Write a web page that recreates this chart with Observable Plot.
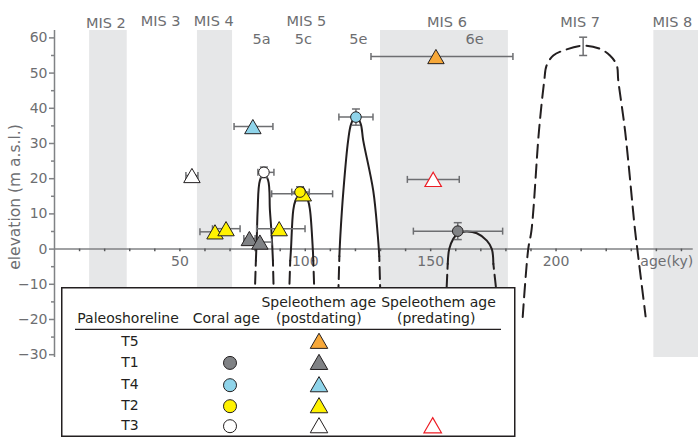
<!DOCTYPE html>
<html><head><meta charset="utf-8">
<script src="https://cdn.jsdelivr.net/npm/d3@7"></script>
<script src="https://cdn.jsdelivr.net/npm/@observablehq/plot@0.6"></script>
<style>
body{margin:0;background:#fff;}
#wrap{position:relative;width:698px;height:439px;font-family:"DejaVu Sans",sans-serif;}
#legend{position:absolute;left:61px;top:287px;}
</style></head><body><div id="wrap"></div>
<script>
// ---------- data ----------
const xDomain = [0, 256.4];
const yDomain = [-30.8, 62.1];
const yTicks = [-30, -20, -10, 0, 10, 20, 30, 40, 50, 60];
const yMinorTicks = [-25, -15, -5, 5, 15, 25, 35, 45, 55];
const xTickLabels = [50, 100, 150, 200];
const xMinorTicks = [10,20,30,40,50,60,70,80,90,100,110,120,130,140,150,160,170,180,190,200,210,220,230,240,250];
const xAxisEnd = 254.7;

const misNames = ["MIS 2", "MIS 3", "MIS 4", "MIS 5", "MIS 6", "MIS 7", "MIS 8"];
const misLabelAge = [20.5, 42.3, 63.5, 100.4, 156.5, 209.6, 246.4];
const misLabelElev = [64.1, 64.7, 64.7, 64.7, 64.4, 64.4, 64.4];
const subNames = ["5a", "5c", "5e", "6e"];
const subAge = [82.6, 99.2, 121.2, 167.5];
const subElev = [59.7, 59.7, 59.7, 59.5];

const bandStart = [14, 57, 130, 239];
const bandEnd = [29, 71, 181, 257];

// coral ages (circles)
const coralShore = ["T4", "T3", "T2", "T1"];
const coralAge = [120.2, 83.5, 97.9, 160.8];
const coralElev = [37.5, 21.8, 16.2, 5.1];
const coralAgeLo = [113.4, 81.1, 94.6, 143.1];
const coralAgeHi = [127.0, 87.5, 101.6, 178.7];
const coralElevErr = [2.3, 1.5, 1.5, 2.4];

// speleothem ages, postdating (filled triangles)
const postShore = ["T5", "T4", "T3", "T2", "T2", "T2", "T2", "T1", "T1"];
const postAge = [152.1, 79.1, 54.8, 99.2, 64.0, 68.4, 89.6, 77.7, 81.9];
const postElev = [54.7, 34.8, 20.9, 15.7, 4.9, 5.8, 5.8, 3.0, 2.0];
const postAgeLo = [126.2, 71.6, 52.4, 86.6, 58.0, 63.0, 80.6, 75.5, 78.0];
const postAgeHi = [182.8, 87.1, 57.2, 110.9, 68.0, 74.0, 99.9, 80.0, 86.6];

// speleothem ages, predating (open red triangle)
const preShore = ["T3"];
const preAge = [151.0];
const preElev = [19.8];
const preAgeLo = [140.7];
const preAgeHi = [161.4];

// MIS 7 highstand estimate
const mis7Age = [210.8];
const mis7Elev = [57.6];
const mis7Lo = [55.0];
const mis7Hi = [60.2];

// sea-level highstand arcs [age, elevation]
const arc5a = [[80.3,-3.3],[80.7,4],[81.0,11],[81.9,19.5],[83.5,21.4],[85.2,19.5],[85.9,11],[86.6,4],[87.1,-3.3]];
const arc5c = [[94.0,-3.3],[94.3,0],[95.2,11],[96.1,13.8],[98.7,16.6],[101.1,13.8],[101.9,11],[103.0,0],[103.2,-3.3]];
const arc5e = [[113.6,-2],[114.0,4],[115.2,16.6],[117.1,30.9],[118.3,35.6],[120.2,37.9],[122.1,35.6],[123.1,30.9],[127.1,16.6],[128.9,4],[129.5,-2]];
const arc6e = [[156.8,-4.2],[157.4,0],[159.0,2.9],[161.0,4.5],[164.1,5.0],[168.4,4.5],[172.4,2.4],[174.4,0],[175.0,-4.2]];
const arcMIS7 = [[186.7,-19.3],[188.9,0],[190.2,5.3],[193.2,33.7],[195.3,47.9],[196.2,52.1],[198.9,55.0],[202.9,56.4],[210.8,57.8],[217.5,56.9],[221.5,55.0],[224.2,52.2],[224.8,47.9],[227.5,33.7],[231.5,5.3],[232.4,0],[235.7,-19.1]];
const dashLegs = [
  [[80.3,-3.3],[79.9,-12]], [[87.1,-3.3],[87.4,-12]],
  [[94.0,-3.3],[93.6,-12]], [[103.2,-3.3],[103.6,-12]],
  [[113.6,-2],[113.2,-12]], [[129.5,-2],[129.9,-12]],
  [[156.8,-4.2],[156.3,-12]], [[175.0,-4.2],[176.2,-12]]
];

const shoreNames = ["T5", "T1", "T4", "T2", "T3"];
const shoreColors = ["#f7a839", "#808285", "#8fd4ea", "#fff200", "#ffffff"];
const legendCoral = [false, true, true, true, true];
const legendPre = [false, false, false, false, true];

// ---------- styling ----------
const ink = "#231f20", grayText = "#6d6e71", errCol = "#6d6e71", axisCol = "#808285", bandCol = "#e6e7e8", red = "#ed1c24";
const colorOf = s => shoreColors[shoreNames.indexOf(s)];

const tri = {draw(ctx, size) {
  const a = Math.sqrt(4 * size / Math.sqrt(3)), h = a * Math.sqrt(3) / 2;
  ctx.moveTo(0, -h / 2); ctx.lineTo(a / 2, h / 2); ctx.lineTo(-a / 2, h / 2); ctx.closePath();
}};
const vcap = {draw(ctx) { ctx.moveTo(0, -3.5); ctx.lineTo(0, 3.5); }};
const hcap = {draw(ctx) { ctx.moveTo(-4, 0); ctx.lineTo(4, 0); }};

const coral = coralShore.map((s, i) => ({s, age: coralAge[i], elev: coralElev[i], lo: coralAgeLo[i], hi: coralAgeHi[i], eLo: coralElev[i] - coralElevErr[i], eHi: coralElev[i] + coralElevErr[i]}));
const post = postShore.map((s, i) => ({s, age: postAge[i], elev: postElev[i], lo: postAgeLo[i], hi: postAgeHi[i]}));
const pre = preShore.map((s, i) => ({s, age: preAge[i], elev: preElev[i], lo: preAgeLo[i], hi: preAgeHi[i]}));
const mis7 = mis7Age.map((a, i) => ({age: a, elev: mis7Elev[i], eLo: mis7Lo[i], eHi: mis7Hi[i]}));
const bands = bandStart.map((s, i) => ({s, e: bandEnd[i]}));
const hbars = [...post, ...pre, ...coral];
const vbars = [...coral, ...mis7];

const X = d => d[0], Y = d => d[1];

const chart = Plot.plot({
  width: 698, height: 439,
  marginLeft: 54, marginRight: 1, marginTop: 30, marginBottom: 82,
  x: {domain: xDomain, axis: null},
  y: {domain: yDomain, axis: null},
  style: {fontFamily: '"DejaVu Sans", sans-serif', fontSize: "14px", color: grayText, background: "white", overflow: "visible"},
  marks: [
    Plot.rect(bands, {x1: "s", x2: "e", y1: () => yDomain[0], y2: () => yDomain[1], fill: bandCol}),
    Plot.ruleX([0], {y1: () => yDomain[0], y2: () => yDomain[1], stroke: axisCol, strokeWidth: 1.5}),
    Plot.axisY(yTicks, {tickSize: 5, tickPadding: 2, fontSize: 14, color: grayText, stroke: axisCol, strokeWidth: 1.5, label: null}),
    Plot.axisY(yMinorTicks, {tickSize: 3, tickFormat: () => "", stroke: axisCol, strokeWidth: 1.5, label: null}),
    Plot.ruleY([0], {x1: () => 0, x2: () => xAxisEnd, stroke: axisCol, strokeWidth: 1.5}),
    Plot.ruleX(xMinorTicks, {y1: () => 0, y2: () => -0.75, stroke: "#58595b", strokeWidth: 1.5}),
    Plot.text(xTickLabels, {x: d => d, y: () => 0, dy: 12, fontSize: 14, fill: grayText}),
    Plot.text(["age(ky)"], {x: () => xAxisEnd, y: () => 0, dy: 12, textAnchor: "end", fontSize: 14, fill: grayText}),
    Plot.text(["elevation (m a.s.l.)"], {frameAnchor: "left", textAnchor: "middle", dx: -39, dy: 3, rotate: -90, fontSize: 15.5, fill: grayText}),
    Plot.text(misNames, {x: (d, i) => misLabelAge[i], y: (d, i) => misLabelElev[i], text: d => d, fontSize: 14.5, fill: grayText}),
    Plot.text(subNames, {x: (d, i) => subAge[i], y: (d, i) => subElev[i], text: d => d, fontSize: 14.5, fill: grayText}),
    // arcs
    Plot.line(arc5a, {x: X, y: Y, curve: "catmull-rom", stroke: ink, strokeWidth: 2}),
    Plot.line(arc5c, {x: X, y: Y, curve: "catmull-rom", stroke: ink, strokeWidth: 2}),
    Plot.line(arc5e, {x: X, y: Y, curve: "catmull-rom", stroke: ink, strokeWidth: 2}),
    Plot.line(arc6e, {x: X, y: Y, curve: "catmull-rom", stroke: ink, strokeWidth: 2}),
    ...dashLegs.map(leg => Plot.line(leg, {x: X, y: Y, stroke: ink, strokeWidth: 2, strokeDasharray: "5,6,12,6"})),
    Plot.line(arcMIS7, {x: X, y: Y, curve: "catmull-rom", stroke: ink, strokeWidth: 2, strokeDasharray: "13,7"}),
    // error bars
    Plot.link(hbars, {x1: "lo", x2: "hi", y1: "elev", y2: "elev", stroke: errCol, strokeWidth: 1.5}),
    Plot.dot(hbars, {x: "lo", y: "elev", symbol: vcap, r: 4, fill: "none", stroke: errCol, strokeWidth: 1.5}),
    Plot.dot(hbars, {x: "hi", y: "elev", symbol: vcap, r: 4, fill: "none", stroke: errCol, strokeWidth: 1.5}),
    Plot.link(vbars, {x1: "age", x2: "age", y1: "eLo", y2: "eHi", stroke: errCol, strokeWidth: 1.5}),
    Plot.dot(vbars, {x: "age", y: "eLo", symbol: hcap, r: 4, fill: "none", stroke: errCol, strokeWidth: 1.5}),
    Plot.dot(vbars, {x: "age", y: "eHi", symbol: hcap, r: 4, fill: "none", stroke: errCol, strokeWidth: 1.5}),
    // markers
    Plot.dot(pre, {x: "age", y: "elev", symbol: tri, r: 6.1, fill: "white", stroke: red, strokeWidth: 1.2}),
    Plot.dot(post, {x: "age", y: "elev", symbol: tri, r: 6.1, fill: d => colorOf(d.s), stroke: ink, strokeWidth: 1}),
    Plot.dot(coral, {x: "age", y: "elev", r: 5.3, fill: d => colorOf(d.s), stroke: ink, strokeWidth: 1})
  ]
});
document.getElementById("wrap").appendChild(chart);

// ---------- legend ----------
const lg = d3.create("svg").attr("id", "legend").attr("width", 456).attr("height", 152)
  .style("font-family", '"DejaVu Sans", sans-serif').style("font-size", "14px");
lg.append("rect").attr("x", 0.75).attr("y", 0.75).attr("width", 453).attr("height", 148.5)
  .attr("fill", "white").attr("stroke", ink).attr("stroke-width", 1.5);
const hdr = [["Paleoshoreline", 67, 36.3], ["Coral age", 165.3, 36.3], ["Speleothem age", 257.8, 20], ["(postdating)", 257.8, 36.3], ["Speleothem age", 377.5, 20], ["(predating)", 375.2, 36.3]];
lg.selectAll("text.h").data(hdr).join("text").attr("class", "h")
  .attr("x", d => d[1]).attr("y", d => d[2]).attr("text-anchor", "middle").attr("fill", ink).text(d => d[0]);
lg.append("line").attr("x1", 14).attr("x2", 440).attr("y1", 42.3).attr("y2", 42.3).attr("stroke", ink).attr("stroke-width", 1.2);
const rowY = [53.8, 74.9, 97.2, 118.2, 138.2];
const triPath = (cx, cy, w) => { const h = w * Math.sqrt(3) / 2; return `M${cx},${cy - h / 2}L${cx + w / 2},${cy + h / 2}L${cx - w / 2},${cy + h / 2}Z`; };
shoreNames.forEach((s, i) => {
  const y = rowY[i];
  lg.append("text").attr("x", 69).attr("y", y + 5.2).attr("text-anchor", "middle").attr("fill", ink).text(s);
  if (legendCoral[i]) lg.append("circle").attr("cx", 169).attr("cy", y + 1).attr("r", 6.5).attr("fill", shoreColors[i]).attr("stroke", ink).attr("stroke-width", 1);
  lg.append("path").attr("d", triPath(258, y, 17.5)).attr("fill", shoreColors[i]).attr("stroke", ink).attr("stroke-width", 1);
  if (legendPre[i]) lg.append("path").attr("d", triPath(371.7, y, 17.5)).attr("fill", "white").attr("stroke", red).attr("stroke-width", 1.2);
});
document.getElementById("wrap").appendChild(lg.node());
</script></body></html>
